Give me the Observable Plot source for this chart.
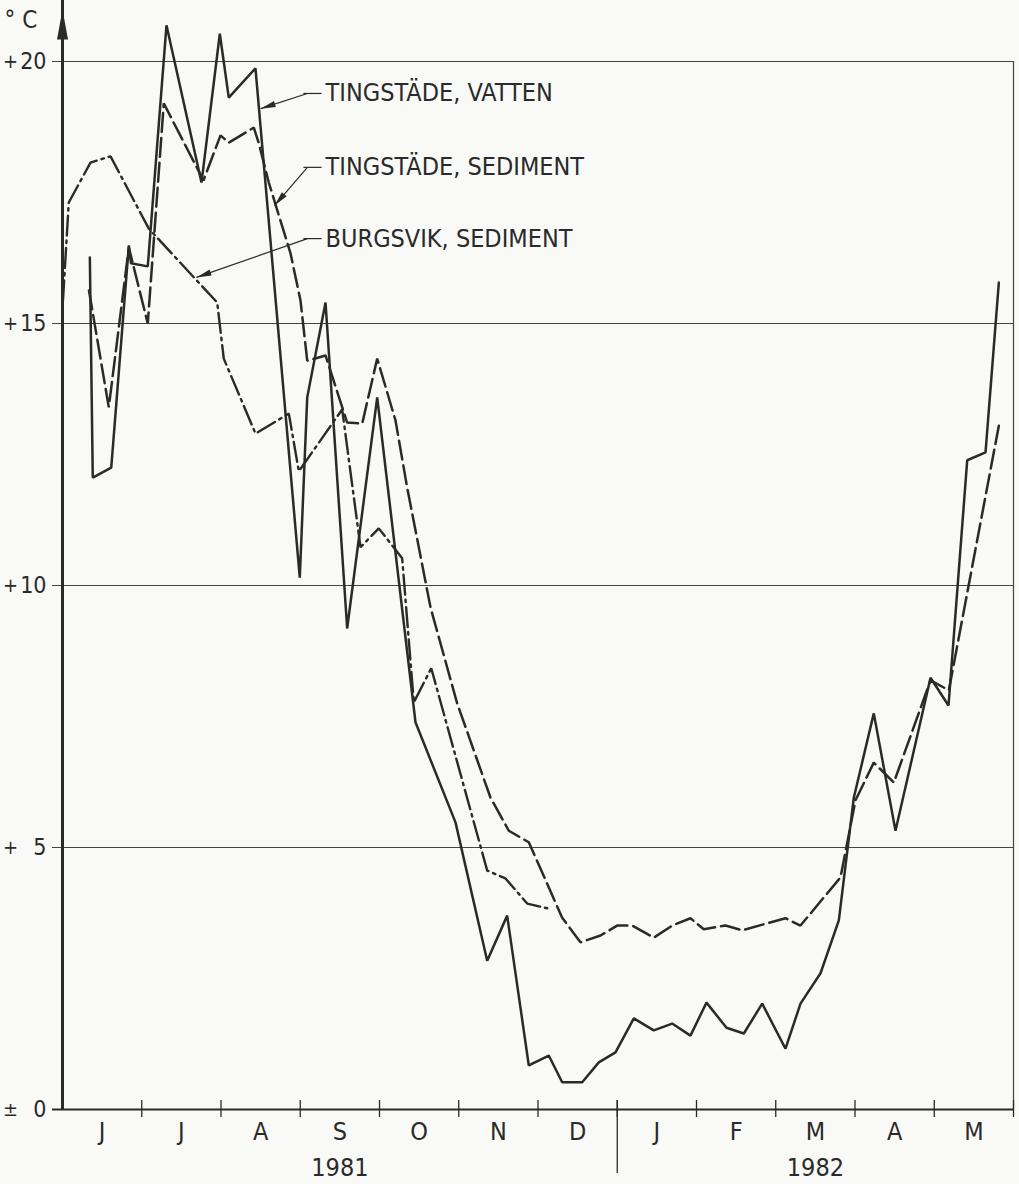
<!DOCTYPE html>
<html><head><meta charset="utf-8">
<script src="https://cdn.jsdelivr.net/npm/d3@7"></script>
<script src="https://cdn.jsdelivr.net/npm/@observablehq/plot@0.6"></script>
<style>
html,body{margin:0;padding:0;background:#f9f9f7;}
#chart{width:1019px;height:1184px;}
</style></head><body><div id="chart"></div>
<script>
// x = months since 1 June 1981 (decimal), t = temperature °C
const monthLabels = ["J","J","A","S","O","N","D","J","F","M","A","M"];
const yearLabels = ["1981","1982"];
const yearCenters = [3.5, 9.5];
const yTicks = [0, 5, 10, 15, 20];
const yTickSigns = ["±", "+", "+", "+", "+"];
const yTickNumbers = ["0", "5", "10", "15", "20"];
const seriesNames = ["TINGSTÄDE, VATTEN", "TINGSTÄDE, SEDIMENT", "BURGSVIK, SEDIMENT"];

const vattenX = [0.345,0.382,0.615,0.837,0.864,1.076,1.312,1.754,1.985,2.098,2.435,2.994,3.088,3.319,3.592,3.971,4.454,4.959,5.359,5.611,5.884,6.136,6.305,6.558,6.767,6.978,7.209,7.461,7.693,7.924,8.126,8.379,8.597,8.829,9.123,9.312,9.565,9.796,9.985,10.237,10.511,10.953,11.180,11.416,11.647,11.815];
const vattenT = [16.26,12.06,12.25,16.49,16.15,16.09,20.69,17.69,20.53,19.31,19.87,10.15,13.59,15.40,9.18,13.59,7.39,5.48,2.84,3.70,0.84,1.03,0.52,0.52,0.90,1.09,1.74,1.51,1.64,1.41,2.04,1.56,1.45,2.02,1.16,2.02,2.60,3.61,5.95,7.56,5.32,8.24,7.71,12.39,12.54,15.78];

const sedimentX = [0.334,0.584,0.837,1.076,1.278,1.779,1.994,2.098,2.414,2.477,2.603,2.877,3.003,3.088,3.319,3.592,3.782,3.971,4.202,4.349,4.644,4.980,5.401,5.632,5.884,6.305,6.536,6.789,6.999,7.189,7.461,7.693,7.924,8.092,8.366,8.577,9.123,9.312,9.817,10.006,10.237,10.490,10.953,11.184,11.815];
const sedimentT = [15.63,13.40,16.45,15.00,19.20,17.73,18.59,18.45,18.74,18.44,17.69,16.34,15.44,14.29,14.39,13.11,13.09,14.33,13.15,11.87,9.58,7.75,5.95,5.32,5.10,3.66,3.19,3.32,3.51,3.51,3.28,3.51,3.65,3.44,3.51,3.42,3.65,3.51,4.43,5.90,6.62,6.24,8.19,8.00,13.05];

const burgsvikX = [0.006,0.079,0.353,0.606,1.089,1.952,2.035,2.435,2.856,2.982,3.529,3.760,3.991,4.286,4.433,4.653,5.359,5.590,5.864,6.116];
const burgsvikT = [15.44,17.31,18.07,18.19,16.81,15.40,14.33,12.90,13.28,12.18,13.36,10.73,11.09,10.52,7.77,8.42,4.56,4.41,3.93,3.84];

// label anchors (month, °C): text start, elbow, arrow tip
const labelX = [3.32, 3.32, 3.32];
const labelT = [19.39, 17.98, 16.62];
const elbowX = [3.09, 3.09, 3.09];
const tipX = [2.50, 2.675, 1.69];
const tipT = [19.10, 17.25, 15.88];

const W = 1019, H = 1184, ML = 62, MR = 6, MT = 61, MB = 75;
const kx = (W - ML - MR) / 12, ky = (H - MT - MB) / 20;
const INK = "#2a2a2a";
const FONT = '"DejaVu Sans Condensed", "DejaVu Sans", sans-serif';

const rows = (xs, ts) => xs.map((x, i) => ({x, t: ts[i]}));

const headSmall = {draw(ctx){ ctx.moveTo(0,0); ctx.lineTo(-15,-3.2); ctx.lineTo(-15,3.2); ctx.closePath(); }};
const headBig = {draw(ctx){ ctx.moveTo(0,0); ctx.lineTo(-30,-5.5); ctx.lineTo(-30,5.5); ctx.closePath(); }};

const leaders = seriesNames.map((name, i) => ({
  name, lx: labelX[i], lt: labelT[i], ex: elbowX[i], tx: tipX[i], tt: tipT[i],
  rot: Math.atan2(-(tipT[i] - labelT[i]) * ky, (tipX[i] - elbowX[i]) * kx) * 180 / Math.PI
}));

const chart = Plot.plot({
  width: W, height: H,
  marginLeft: ML, marginRight: MR, marginTop: MT, marginBottom: MB,
  x: {domain: [0, 12], axis: null},
  y: {domain: [0, 20], axis: null},
  style: {background: "transparent", fontFamily: FONT, color: INK, fontStretch: "condensed"},
  marks: [
    // horizontal grid lines with tick stubs to the left
    Plot.ruleY(yTicks.filter(d => d > 0), {x1: -10 / kx, x2: 12, stroke: "#444", strokeWidth: 1.1}),
    // x axis
    Plot.ruleY([0], {x1: -10 / kx, x2: 12, stroke: INK, strokeWidth: 2.2}),
    // right frame
    Plot.ruleX([12], {y1: 0, y2: 20, stroke: "#444", strokeWidth: 1.2}),
    // month ticks
    Plot.ruleX(d3.range(1, 13), {y1: 9 / ky, y2: -8 / ky, stroke: INK, strokeWidth: 1.3}),
    // year divider
    Plot.ruleX([7], {y1: 9 / ky, y2: -64 / ky, stroke: INK, strokeWidth: 1.3}),
    // y axis with arrow
    Plot.ruleX([0], {y1: 0, y2: 20 + 75 / ky, stroke: INK, strokeWidth: 3}),
    Plot.dot([0], {x: 0, y: 20 + 52 / ky, symbol: headBig, rotate: -90, fill: INK, stroke: null}),
    // tick labels: sign and number
    Plot.text(yTicks, {x: 0, y: d => d, text: (d, i) => yTickNumbers[i], textAnchor: "end", dx: -16, fontSize: 23, fill: INK}),
    Plot.text(yTicks, {x: 0, y: d => d, text: (d, i) => yTickSigns[i], textAnchor: "middle", dx: -52, fontSize: 20, fill: INK}),
    Plot.text(["° C"], {x: 0, y: 20, text: d => d, textAnchor: "start", dx: -58, dy: -41, fontSize: 24, fill: INK}),
    Plot.text(monthLabels, {x: (d, i) => i + 0.5, y: 0, text: d => d, dy: 22, fontSize: 25, fill: INK}),
    Plot.text(yearLabels, {x: (d, i) => yearCenters[i], y: 0, text: d => d, dy: 58, fontSize: 25, fill: INK}),
    // series
    Plot.line(rows(burgsvikX, burgsvikT), {x: "x", y: "t", stroke: INK, strokeWidth: 2.4, strokeDasharray: "20,5,2.5,5", strokeLinejoin: "miter"}),
    Plot.line(rows(sedimentX, sedimentT), {x: "x", y: "t", stroke: INK, strokeWidth: 2.5, strokeDasharray: "19,6", strokeLinejoin: "miter"}),
    Plot.line(rows(vattenX, vattenT), {x: "x", y: "t", stroke: INK, strokeWidth: 2.5, strokeLinejoin: "miter"}),
    // leaders
    Plot.link(leaders, {x1: "lx", y1: "lt", x2: "ex", y2: "lt", stroke: INK, strokeWidth: 1.2, dx: -4}),
    Plot.link(leaders, {x1: "ex", y1: "lt", x2: "tx", y2: "tt", stroke: INK, strokeWidth: 1.2}),
    Plot.dot(leaders, {x: "tx", y: "tt", symbol: headSmall, rotate: "rot", fill: INK, stroke: null}),
    Plot.text(leaders, {x: "lx", y: "lt", text: "name", textAnchor: "start", fontSize: 25, fill: INK})
  ]
});
document.getElementById("chart").appendChild(chart);
</script></body></html>
